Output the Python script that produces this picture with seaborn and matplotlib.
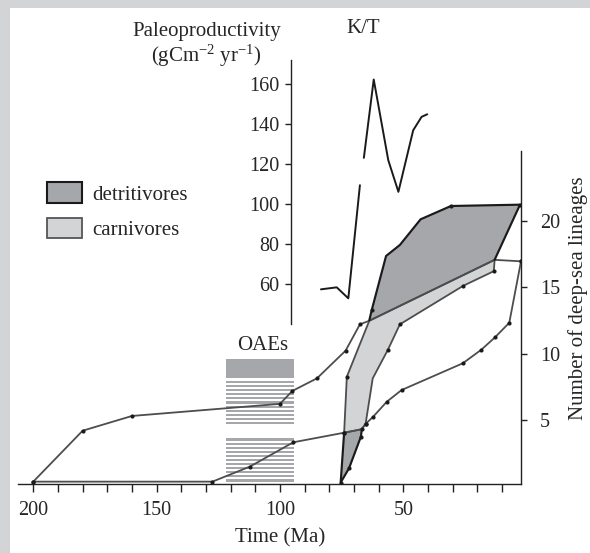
import numpy as np
import matplotlib
matplotlib.use("Agg")
import matplotlib.pyplot as plt
from matplotlib.patches import Rectangle, Patch
import seaborn as sns

# ---------------- data ----------------
# curve 1 (upper lineage curve), Ma and number of lineages
c1_years = [200, 180, 160, 100, 95, 85, 73.4, 67.6, 63.8, 13.0, 2.3]
c1_lin = [0.37, 4.2, 5.31, 6.22, 7.19, 8.14, 10.22, 12.2, 12.47, 17.05, 16.94]
c1_dot = [True, True, True, True, True, True, True, True, False, False, True]

# curve 2 (lower lineage curve)
c2_years = [200, 127.4, 112.2, 94.6, 74.0, 66.9, 65.3, 62.2, 56.7, 50.7, 25.9, 18.4, 12.8, 7.05, 2.3]
c2_lin = [0.37, 0.37, 1.5, 3.33, 4.05, 4.31, 4.71, 5.26, 6.38, 7.26, 9.27, 10.29, 11.23, 12.32, 16.94]

# detritivores envelope
detr_years = [75.4, 72.0, 67.2, 66.9, 63.8, 62.8, 57.0, 51.4, 43.0, 30.7, 2.7, 13.0, 63.8, 72.9, 74.0]
detr_lin = [0.3, 1.38, 3.75, 4.2, 12.5, 13.28, 17.34, 18.17, 20.1, 21.1, 21.2, 17.05, 12.47, 8.26, 4.05]

# carnivores envelope
carn_years = [63.8, 13.0, 13.3, 25.7, 51.4, 56.3, 62.4, 65.3, 66.9, 74.0, 72.9]
carn_lin = [12.47, 17.05, 16.2, 15.1, 12.2, 10.27, 8.14, 4.71, 4.31, 4.05, 8.26]
carn_dot = [False, False, True, True, True, True, False, True, False, True, True]

# paleoproductivity (gC m-2 yr-1)
paleo_years_a = [83.4, 77.0, 72.3, 67.6]
paleo_vals_a = [57.4, 58.4, 52.9, 109.5]
paleo_years_b = [66.0, 62.0, 56.1, 52.0, 46.0, 42.6, 40.3]
paleo_vals_b = [123.2, 162.4, 122.0, 106.2, 137.0, 143.7, 145.0]

# OAE interval (Ma)
oae_start, oae_end = 122, 94.3

x_major = [200, 150, 100, 50]
x_minor = [190, 180, 170, 160, 140, 130, 120, 110, 90, 80, 70, 60, 40, 30, 20, 10]
lin_ticks = [5, 10, 15, 20]
paleo_ticks = [60, 80, 100, 120, 140, 160]
legend_labels = ["detritivores", "carnivores"]

# ---------------- style ----------------
sns.set_style("ticks")
plt.rcParams['font.family'] = ['Liberation Serif', 'DejaVu Serif']
plt.rcParams['mathtext.fontset'] = 'custom'
plt.rcParams['mathtext.rm'] = 'Liberation Serif'
plt.rcParams['mathtext.it'] = 'Liberation Serif:italic'

W, H = 590, 553
fig = plt.figure(figsize=(W / 100, H / 100), dpi=100)
fig.patch.set_facecolor('white')

def fx(px):
    return px / W

def fy(py):
    return 1 - py / H

# gray frame bands
fig.patches.append(Rectangle((0, fy(7.5)), 1, 7.5 / H, transform=fig.transFigure,
                             facecolor='#d3d4d6', edgecolor='none', zorder=0))
fig.patches.append(Rectangle((0, 0), 10 / W, 1, transform=fig.transFigure,
                             facecolor='#d3d4d6', edgecolor='none', zorder=0))

left, right, bottom, top = 18, 521, 484.3, 60
ax = fig.add_axes([fx(left), fy(bottom), fx(right) - fx(left), fy(top) - fy(bottom)])
ax.patch.set_visible(False)
ax.set_xlim(206.2, 2.3)
ax.set_ylim(0.17, 32.08)

DARK = '#a6a7aa'
LIGHT = '#d3d4d6'
LINE = '#4d4d4d'
BLACK = '#1a1a1a'

# OAE box: solid band + stripes
ax.fill_between([oae_start, oae_end], 8.14, 9.57, color=DARK, lw=0, zorder=1)
for g_top in (381.0, 438.5):
    for k in range(11):
        ytop = g_top + k * 4.1
        n1 = (486.6 - ytop) / 13.3
        n2 = (486.6 - ytop - 2.1) / 13.3
        ax.fill_between([oae_start, oae_end], n2, n1, color=DARK, lw=0, zorder=1)

# polygons
ax.fill(detr_years, detr_lin, facecolor=DARK, edgecolor='none', zorder=2)
ax.fill(carn_years, carn_lin, facecolor=LIGHT, edgecolor=LINE, lw=1.3, zorder=3)

# lineage curves
sns.lineplot(x=c1_years, y=c1_lin, sort=False, estimator=None, ax=ax, color=LINE, lw=1.3, zorder=4)
sns.lineplot(x=c2_years, y=c2_lin, sort=False, estimator=None, ax=ax, color=LINE, lw=1.3, zorder=4)

# detritivore edges (thick black)
lo = [14, 0, 1, 2, 3]
up = [4, 5, 6, 7, 8, 9, 10, 11]
sns.lineplot(x=[detr_years[i] for i in lo], y=[detr_lin[i] for i in lo], sort=False,
             estimator=None, ax=ax, color=BLACK, lw=1.55, zorder=5)
sns.lineplot(x=[detr_years[i] for i in up], y=[detr_lin[i] for i in up], sort=False,
             estimator=None, ax=ax, color=BLACK, lw=1.55, zorder=5)

# dots
dx = [x for x, d in zip(c1_years, c1_dot) if d] + c2_years + \
     [x for x, d in zip(carn_years, carn_dot) if d] + \
     [detr_years[i] for i in (1, 2, 5, 9, 10, 0)]
dy = [y for y, d in zip(c1_lin, c1_dot) if d] + c2_lin + \
     [y for y, d in zip(carn_lin, carn_dot) if d] + \
     [detr_lin[i] for i in (1, 2, 5, 9, 10, 0)]
sns.scatterplot(x=dx, y=dy, ax=ax, color=BLACK, s=9, linewidth=0, zorder=6)

# axes styling
for s in ('top', 'left'):
    ax.spines[s].set_visible(False)
ax.spines['right'].set_visible(True)
ax.spines['right'].set_bounds(0.17, 25.2)
for s in ('right', 'bottom'):
    ax.spines[s].set_color('#222222')
    ax.spines[s].set_linewidth(1.0)
ax.yaxis.tick_right()
ax.set_yticks(lin_ticks)
ax.set_yticklabels([str(v) for v in lin_ticks])
ax.set_xticks(x_major)
ax.set_xticklabels([str(v) for v in x_major])
ax.set_xticks(x_minor, minor=True)
ax.tick_params(axis='x', which='both', direction='out', length=6, width=1.0, color='#222222',
               labelsize=14.5, pad=6)
ax.tick_params(axis='y', which='both', direction='out', length=4.5, width=1.0, color='#222222',
               labelsize=14.5, pad=9, left=False, right=True, labelleft=False, labelright=True)
ax.set_xlabel('')
ax.set_ylabel('')

# paleoproductivity axis
ax2 = fig.add_axes(ax.get_position(), sharex=ax)
ax2.patch.set_visible(False)
ax2.set_ylim(-40.15, 172.15)
for s in ('top', 'right', 'bottom'):
    ax2.spines[s].set_visible(False)
ax2.spines['left'].set_position(('data', 95.5))
ax2.spines['left'].set_bounds(40, 172.15)
ax2.spines['left'].set_color('#222222')
ax2.spines['left'].set_linewidth(1.0)
ax2.set_yticks(paleo_ticks)
ax2.set_yticklabels([str(v) for v in paleo_ticks])
ax2.tick_params(axis='y', direction='out', length=4.5, width=1.0, color='#222222',
                labelsize=14.5, pad=4, left=True, right=False, labelleft=True, labelright=False)
ax2.tick_params(axis='x', which='both', bottom=False, labelbottom=False)
sns.lineplot(x=paleo_years_a, y=paleo_vals_a, sort=False, estimator=None, ax=ax2, color=BLACK, lw=1.4)
sns.lineplot(x=paleo_years_b, y=paleo_vals_b, sort=False, estimator=None, ax=ax2, color=BLACK, lw=1.4)
ax2.set_xlabel('')
ax2.set_ylabel('')
ax2.set_xlim(206.2, 2.3)

# texts
fs = 15
fig.text(fx(206.5), fy(31.5), 'Paleoproductivity', ha='center', va='center', fontsize=fs)
fig.text(fx(206), fy(56), r'(gCm$^{-2}$ yr$^{-1}$)', ha='center', va='center', fontsize=fs)
fig.text(fx(363), fy(28.5), 'K/T', ha='center', va='center', fontsize=fs)
fig.text(fx(263), fy(345), 'OAEs', ha='center', va='center', fontsize=fs)
fig.text(fx(280), fy(538), 'Time (Ma)', ha='center', va='center', fontsize=fs)
fig.text(fx(578), fy(298), 'Number of deep-sea lineages', ha='center', va='center',
         rotation=90, fontsize=fs)

# legend
handles = [Patch(facecolor=DARK, edgecolor=BLACK, linewidth=1.5),
           Patch(facecolor=LIGHT, edgecolor='#555555', linewidth=1.3)]
ax.legend(handles, legend_labels, loc='upper left', bbox_to_anchor=(fx(46.7), fy(182.3)),
          bbox_transform=fig.transFigure, frameon=False, fontsize=fs, handlelength=1.68,
          handleheight=1.15, handletextpad=0.5, labelspacing=0.62, borderpad=0, borderaxespad=0)

fig.savefig('out.png', dpi=100)
